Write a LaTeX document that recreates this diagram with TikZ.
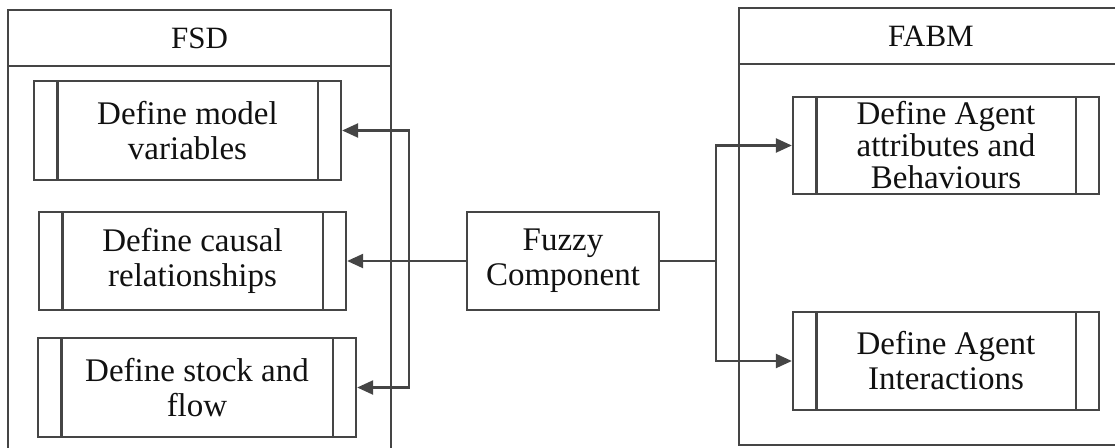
\documentclass[tikz,border=0pt]{standalone}
\usepackage{fontspec}
\setmainfont{Liberation Serif}
\usetikzlibrary{arrows.meta}
\definecolor{lc}{HTML}{454545}
\definecolor{tc}{HTML}{111111}
\tikzset{
  ln/.style={draw=lc, line width=2.3pt},
  box/.style={ln, rectangle, inner sep=0pt, align=center, text=tc,
    font=\fontsize{33}{35}\selectfont},
  subproc/.style={box, path picture={
    \draw[lc, line width=2.3pt]
      ([xshift=23.5pt]path picture bounding box.north west) -- ([xshift=23.5pt]path picture bounding box.south west)
      ([xshift=-23pt]path picture bounding box.north east) -- ([xshift=-23pt]path picture bounding box.south east);}},
  head/.style={text=tc, font=\fontsize{31}{32}\selectfont, inner sep=0pt},
  arr/.style={ln, -{Triangle[length=16pt,width=14pt]}},
}
\begin{document}
\begin{tikzpicture}[x=1pt,y=-1pt]
\useasboundingbox (0,0) rectangle (1115,447);
% containers
\draw[ln] (8,452) -- (8,10) -- (391,10) -- (391,452);
\draw[ln] (8,66) -- (391,66);
\node[head] (fsd) at (199.5,38) {FSD};
\draw[ln] (1125,445) -- (739,445) -- (739,8) -- (1125,8);
\draw[ln] (739,64) -- (1125,64);
\node[head] (fabm) at (931,36) {FABM};
% FSD boxes
\node[subproc, minimum width=307pt, minimum height=99pt] (b1) at (187.5,130.5) {Define model\\variables};
\node[subproc, minimum width=307pt, minimum height=98pt] (b2) at (192.5,261) {Define causal\\relationships};
\node[subproc, minimum width=318pt, minimum height=99pt] (b3) at (197,387.5) {Define stock and\\flow};
% Fuzzy
\node[box, minimum width=192pt, minimum height=98pt] (fz) at (563,261) {Fuzzy\\Component};
% FABM boxes
\node[subproc, minimum width=306pt, minimum height=97pt, font=\fontsize{33}{32}\selectfont] (a1) at (946,145.5) {Define Agent\\attributes and\\Behaviours};
\node[subproc, minimum width=306pt, minimum height=98pt] (a2) at (946,361) {Define Agent\\Interactions};
% connectors
\coordinate (jl) at (409,261);
\coordinate (jr) at (716,261);
\draw[arr] (fz.west) -- (b2.east);
\draw[arr] (jl) |- (b1.east);
\draw[arr] (jl) |- (b3.east);
\draw[ln] (fz.east) -- (jr);
\draw[arr] (jr) |- (a1.west);
\draw[arr] (jr) |- (a2.west);
\end{tikzpicture}
\end{document}
